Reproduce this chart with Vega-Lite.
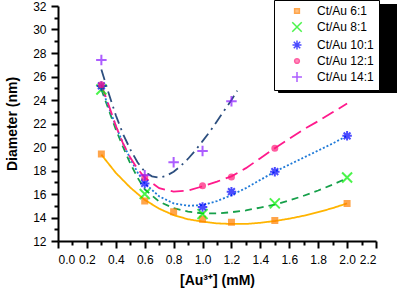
{
  "$schema": "https://vega.github.io/schema/vega-lite/v6.json",
  "width": 318,
  "height": 235,
  "autosize": {"type": "none"},
  "padding": {"left": 58, "top": 6, "right": 21, "bottom": 52},
  "background": "white",
  "config": {
    "view": {"stroke": null},
    "font": "Liberation Sans",
    "axis": {"labelFont": "Liberation Sans", "labelFontSize": 12, "labelColor": "black", "tickColor": "black", "domainColor": "black", "titleFont": "Liberation Sans", "titleFontSize": 14, "titleFontWeight": "bold", "titleColor": "black", "grid": false},
    "legend": {"orient": "none", "legendX": 216, "legendY": -6, "strokeColor": "black", "fillColor": "white", "padding": 5, "labelFont": "Liberation Sans", "labelFontSize": 12, "labelColor": "black", "rowPadding": 2, "symbolOffset": 12, "labelOffset": 14, "symbolStrokeWidth": 1.5, "symbolSize": 90, "title": null}
  },
  "datasets": {
    "points": [
      {"series": "Ct/Au 6:1", "x": 0.3, "y": 19.4},
      {"series": "Ct/Au 6:1", "x": 0.6, "y": 15.4},
      {"series": "Ct/Au 6:1", "x": 0.8, "y": 14.5},
      {"series": "Ct/Au 6:1", "x": 1.0, "y": 13.85},
      {"series": "Ct/Au 6:1", "x": 1.2, "y": 13.6},
      {"series": "Ct/Au 6:1", "x": 1.5, "y": 13.75},
      {"series": "Ct/Au 6:1", "x": 2.0, "y": 15.2},
      {"series": "Ct/Au 8:1", "x": 0.3, "y": 24.9},
      {"series": "Ct/Au 8:1", "x": 0.6, "y": 16.0},
      {"series": "Ct/Au 8:1", "x": 1.0, "y": 14.3},
      {"series": "Ct/Au 8:1", "x": 1.5, "y": 15.2},
      {"series": "Ct/Au 8:1", "x": 2.0, "y": 17.4},
      {"series": "Ct/Au 10:1", "x": 0.3, "y": 25.2},
      {"series": "Ct/Au 10:1", "x": 0.6, "y": 16.9},
      {"series": "Ct/Au 10:1", "x": 1.0, "y": 14.9},
      {"series": "Ct/Au 10:1", "x": 1.2, "y": 16.2},
      {"series": "Ct/Au 10:1", "x": 1.5, "y": 17.9},
      {"series": "Ct/Au 10:1", "x": 2.0, "y": 20.95},
      {"series": "Ct/Au 12:1", "x": 0.3, "y": 25.3},
      {"series": "Ct/Au 12:1", "x": 0.6, "y": 17.4},
      {"series": "Ct/Au 12:1", "x": 1.0, "y": 16.7},
      {"series": "Ct/Au 12:1", "x": 1.2, "y": 17.45},
      {"series": "Ct/Au 12:1", "x": 1.5, "y": 19.9},
      {"series": "Ct/Au 14:1", "x": 0.3, "y": 27.4},
      {"series": "Ct/Au 14:1", "x": 0.6, "y": 17.6},
      {"series": "Ct/Au 14:1", "x": 0.8, "y": 18.7},
      {"series": "Ct/Au 14:1", "x": 1.0, "y": 19.65},
      {"series": "Ct/Au 14:1", "x": 1.2, "y": 23.9}
    ],
    "curves": [
      {"series": "Ct/Au 6:1", "x": 0.3, "y": 19.35},
      {"series": "Ct/Au 6:1", "x": 0.4, "y": 17.8},
      {"series": "Ct/Au 6:1", "x": 0.5, "y": 16.55},
      {"series": "Ct/Au 6:1", "x": 0.6, "y": 15.5},
      {"series": "Ct/Au 6:1", "x": 0.7, "y": 14.75},
      {"series": "Ct/Au 6:1", "x": 0.8, "y": 14.2},
      {"series": "Ct/Au 6:1", "x": 0.9, "y": 13.85},
      {"series": "Ct/Au 6:1", "x": 1.0, "y": 13.65},
      {"series": "Ct/Au 6:1", "x": 1.1, "y": 13.5},
      {"series": "Ct/Au 6:1", "x": 1.2, "y": 13.45},
      {"series": "Ct/Au 6:1", "x": 1.3, "y": 13.45},
      {"series": "Ct/Au 6:1", "x": 1.4, "y": 13.55},
      {"series": "Ct/Au 6:1", "x": 1.5, "y": 13.7},
      {"series": "Ct/Au 6:1", "x": 1.6, "y": 13.9},
      {"series": "Ct/Au 6:1", "x": 1.7, "y": 14.15},
      {"series": "Ct/Au 6:1", "x": 1.8, "y": 14.45},
      {"series": "Ct/Au 6:1", "x": 1.9, "y": 14.8},
      {"series": "Ct/Au 6:1", "x": 2.0, "y": 15.2},
      {"series": "Ct/Au 8:1", "x": 0.3, "y": 24.9},
      {"series": "Ct/Au 8:1", "x": 0.35, "y": 23.2},
      {"series": "Ct/Au 8:1", "x": 0.4, "y": 21.5},
      {"series": "Ct/Au 8:1", "x": 0.45, "y": 20.0},
      {"series": "Ct/Au 8:1", "x": 0.5, "y": 18.6},
      {"series": "Ct/Au 8:1", "x": 0.55, "y": 17.4},
      {"series": "Ct/Au 8:1", "x": 0.6, "y": 16.4},
      {"series": "Ct/Au 8:1", "x": 0.7, "y": 15.35},
      {"series": "Ct/Au 8:1", "x": 0.8, "y": 14.8},
      {"series": "Ct/Au 8:1", "x": 0.9, "y": 14.5},
      {"series": "Ct/Au 8:1", "x": 1.0, "y": 14.35},
      {"series": "Ct/Au 8:1", "x": 1.1, "y": 14.35},
      {"series": "Ct/Au 8:1", "x": 1.2, "y": 14.45},
      {"series": "Ct/Au 8:1", "x": 1.3, "y": 14.6},
      {"series": "Ct/Au 8:1", "x": 1.4, "y": 14.85},
      {"series": "Ct/Au 8:1", "x": 1.5, "y": 15.1},
      {"series": "Ct/Au 8:1", "x": 1.6, "y": 15.45},
      {"series": "Ct/Au 8:1", "x": 1.7, "y": 15.85},
      {"series": "Ct/Au 8:1", "x": 1.8, "y": 16.3},
      {"series": "Ct/Au 8:1", "x": 1.9, "y": 16.8},
      {"series": "Ct/Au 8:1", "x": 2.0, "y": 17.35},
      {"series": "Ct/Au 10:1", "x": 0.3, "y": 25.1},
      {"series": "Ct/Au 10:1", "x": 0.35, "y": 23.4},
      {"series": "Ct/Au 10:1", "x": 0.4, "y": 21.8},
      {"series": "Ct/Au 10:1", "x": 0.45, "y": 20.3},
      {"series": "Ct/Au 10:1", "x": 0.5, "y": 19.0},
      {"series": "Ct/Au 10:1", "x": 0.55, "y": 17.85},
      {"series": "Ct/Au 10:1", "x": 0.6, "y": 16.9},
      {"series": "Ct/Au 10:1", "x": 0.7, "y": 15.8},
      {"series": "Ct/Au 10:1", "x": 0.8, "y": 15.2},
      {"series": "Ct/Au 10:1", "x": 0.9, "y": 15.0},
      {"series": "Ct/Au 10:1", "x": 1.0, "y": 15.05},
      {"series": "Ct/Au 10:1", "x": 1.1, "y": 15.4},
      {"series": "Ct/Au 10:1", "x": 1.2, "y": 15.9},
      {"series": "Ct/Au 10:1", "x": 1.3, "y": 16.5},
      {"series": "Ct/Au 10:1", "x": 1.4, "y": 17.2},
      {"series": "Ct/Au 10:1", "x": 1.5, "y": 17.9},
      {"series": "Ct/Au 10:1", "x": 1.6, "y": 18.5},
      {"series": "Ct/Au 10:1", "x": 1.7, "y": 19.1},
      {"series": "Ct/Au 10:1", "x": 1.8, "y": 19.7},
      {"series": "Ct/Au 10:1", "x": 1.9, "y": 20.3},
      {"series": "Ct/Au 10:1", "x": 2.0, "y": 20.95},
      {"series": "Ct/Au 12:1", "x": 0.3, "y": 25.3},
      {"series": "Ct/Au 12:1", "x": 0.35, "y": 23.6},
      {"series": "Ct/Au 12:1", "x": 0.4, "y": 21.8},
      {"series": "Ct/Au 12:1", "x": 0.45, "y": 20.3},
      {"series": "Ct/Au 12:1", "x": 0.5, "y": 19.1},
      {"series": "Ct/Au 12:1", "x": 0.55, "y": 18.15},
      {"series": "Ct/Au 12:1", "x": 0.6, "y": 17.4},
      {"series": "Ct/Au 12:1", "x": 0.7, "y": 16.5},
      {"series": "Ct/Au 12:1", "x": 0.8, "y": 16.2},
      {"series": "Ct/Au 12:1", "x": 0.9, "y": 16.3},
      {"series": "Ct/Au 12:1", "x": 1.0, "y": 16.65},
      {"series": "Ct/Au 12:1", "x": 1.1, "y": 17.05},
      {"series": "Ct/Au 12:1", "x": 1.2, "y": 17.5},
      {"series": "Ct/Au 12:1", "x": 1.3, "y": 18.2},
      {"series": "Ct/Au 12:1", "x": 1.4, "y": 19.05},
      {"series": "Ct/Au 12:1", "x": 1.5, "y": 19.9},
      {"series": "Ct/Au 12:1", "x": 1.6, "y": 20.7},
      {"series": "Ct/Au 12:1", "x": 1.7, "y": 21.5},
      {"series": "Ct/Au 12:1", "x": 1.8, "y": 22.2},
      {"series": "Ct/Au 12:1", "x": 1.9, "y": 22.95},
      {"series": "Ct/Au 12:1", "x": 2.0, "y": 23.7},
      {"series": "Ct/Au 14:1", "x": 0.3, "y": 26.6},
      {"series": "Ct/Au 14:1", "x": 0.35, "y": 24.6},
      {"series": "Ct/Au 14:1", "x": 0.4, "y": 22.7},
      {"series": "Ct/Au 14:1", "x": 0.45, "y": 21.1},
      {"series": "Ct/Au 14:1", "x": 0.5, "y": 19.8},
      {"series": "Ct/Au 14:1", "x": 0.55, "y": 18.7},
      {"series": "Ct/Au 14:1", "x": 0.6, "y": 17.9},
      {"series": "Ct/Au 14:1", "x": 0.65, "y": 17.5},
      {"series": "Ct/Au 14:1", "x": 0.7, "y": 17.4},
      {"series": "Ct/Au 14:1", "x": 0.75, "y": 17.55},
      {"series": "Ct/Au 14:1", "x": 0.8, "y": 17.9},
      {"series": "Ct/Au 14:1", "x": 0.85, "y": 18.4},
      {"series": "Ct/Au 14:1", "x": 0.9, "y": 19.0},
      {"series": "Ct/Au 14:1", "x": 0.95, "y": 19.7},
      {"series": "Ct/Au 14:1", "x": 1.0, "y": 20.5},
      {"series": "Ct/Au 14:1", "x": 1.05, "y": 21.3},
      {"series": "Ct/Au 14:1", "x": 1.1, "y": 22.2},
      {"series": "Ct/Au 14:1", "x": 1.15, "y": 23.1},
      {"series": "Ct/Au 14:1", "x": 1.2, "y": 24.0},
      {"series": "Ct/Au 14:1", "x": 1.24, "y": 24.8}
    ]
  },
  "layer": [
    {
      "data": {"name": "curves"},
      "mark": {"type": "line", "strokeWidth": 1.8, "clip": true},
      "encoding": {
        "x": {"field": "x", "type": "quantitative", "scale": {"domain": [0, 2.2], "nice": false, "zero": false},
          "axis": {"orient": "bottom", "values": [0, 0.2, 0.4, 0.6, 0.8, 1.0, 1.2, 1.4, 1.6, 1.8, 2.0, 2.2], "format": ".1f", "tickSize": 7, "tickWidth": 2, "domainWidth": 2, "labelPadding": 6, "title": "[Au³⁺] (mM)", "titlePadding": 8}},
        "y": {"field": "y", "type": "quantitative", "scale": {"domain": [12, 32], "nice": false, "zero": false},
          "axis": {"orient": "left", "values": [12, 14, 16, 18, 20, 22, 24, 26, 28, 30, 32], "format": "d", "tickSize": 7, "tickWidth": 2, "domainWidth": 2, "labelPadding": 5, "title": "Diameter (nm)", "titlePadding": 13}},
        "detail": {"field": "series", "type": "nominal"},
        "color": {"field": "series", "type": "nominal",
          "scale": {"domain": ["Ct/Au 14:1", "Ct/Au 12:1", "Ct/Au 10:1", "Ct/Au 8:1", "Ct/Au 6:1"], "range": ["#2d4f7f", "#ff1a8c", "#1f7ad8", "#16a04a", "#ffb400"]},
          "legend": {"legendX": 220, "legendY": -2, "zindex": 0, "fillColor": "black", "strokeColor": "black", "symbolType": "square", "symbolSize": 196, "symbolOpacity": 0, "symbolStrokeWidth": 0, "symbolOffset": 0, "labelOffset": 95, "rowPadding": 2, "labelExpr": "''"}},
        "strokeDash": {"field": "series", "type": "nominal", "legend": null,
          "scale": {"domain": ["Ct/Au 6:1", "Ct/Au 8:1", "Ct/Au 10:1", "Ct/Au 12:1", "Ct/Au 14:1"], "range": [[1, 0], [7, 5], [2, 2], [13, 6], [11, 5, 2, 5]]}}
      }
    },
    {
      "data": {"name": "points"},
      "mark": {"type": "point", "filled": false, "strokeWidth": 2, "size": 100},
      "encoding": {
        "x": {"field": "x", "type": "quantitative",
          "axis": {"orient": "bottom", "values": [0.1, 0.3, 0.5, 0.7, 0.9, 1.1, 1.3, 1.5, 1.7, 1.9, 2.1], "labels": false, "domain": false, "tickSize": 4, "tickWidth": 2, "title": null}},
        "y": {"field": "y", "type": "quantitative",
          "axis": {"orient": "left", "values": [13, 15, 17, 19, 21, 23, 25, 27, 29, 31], "labels": false, "domain": false, "tickSize": 4, "tickWidth": 2, "title": null}},
        "fill": {"field": "series", "type": "nominal",
          "scale": {"domain": ["Ct/Au 6:1", "Ct/Au 8:1", "Ct/Au 10:1", "Ct/Au 12:1", "Ct/Au 14:1"], "range": ["#ff8000", "transparent", "transparent", "#ff1a7a", "transparent"]},
          "legend": {"zindex": 2, "labelExpr": "datum.label + '\u00a0\u00a0\u00a0\u00a0'"}},
        "stroke": {"field": "series", "type": "nominal",
          "scale": {"domain": ["Ct/Au 6:1", "Ct/Au 8:1", "Ct/Au 10:1", "Ct/Au 12:1", "Ct/Au 14:1"], "range": ["#ff8000", "#00f000", "#0000ff", "#ff1a7a", "#8a1aff"]},
          "legend": {"zindex": 2, "labelExpr": "datum.label + '\u00a0\u00a0\u00a0\u00a0'"}},
        "shape": {"field": "series", "type": "nominal",
          "scale": {"domain": ["Ct/Au 6:1", "Ct/Au 8:1", "Ct/Au 10:1", "Ct/Au 12:1", "Ct/Au 14:1"], "range": ["M-0.5,-0.5H0.5V0.5H-0.5Z", "M-1,-1L1,1M-1,1L1,-1", "M-0.95,0L0.95,0M0,-0.95L0,0.95M-0.68,-0.68L0.68,0.68M-0.68,0.68L0.68,-0.68", "M-0.5,0A0.5,0.5 0 1,0 0.5,0A0.5,0.5 0 1,0 -0.5,0Z", "M-1.05,0L1.05,0M0,-1.05L0,1.05"]},
          "legend": {"zindex": 2, "labelExpr": "datum.label + '\u00a0\u00a0\u00a0\u00a0'"}}
      }
    }
  ],
  "resolve": {
    "scale": {"strokeDash": "independent"},
    "axis": {"x": "independent", "y": "independent"}
  }
}
